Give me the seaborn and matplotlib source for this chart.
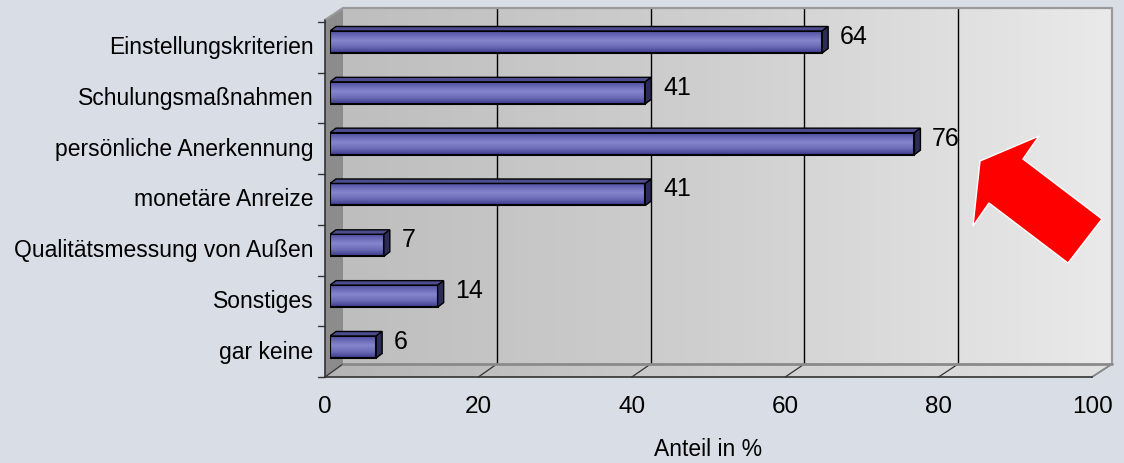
import numpy as np
import matplotlib
matplotlib.use('Agg')
import matplotlib.pyplot as plt
import matplotlib.transforms as mtrans
from matplotlib.patches import Polygon
from matplotlib.colors import LinearSegmentedColormap
import seaborn as sns

# data
kategorien = ["Einstellungskriterien", "Schulungsmaßnahmen", "persönliche Anerkennung",
              "monetäre Anreize", "Qualitätsmessung von Außen", "Sonstiges", "gar keine"]
anteil = [64, 41, 76, 41, 7, 14, 6]
x_ticks = [0, 20, 40, 60, 80, 100]

sns.set_style("white")
plt.rcParams['font.family'] = ['Liberation Sans', 'DejaVu Sans']
plt.rcParams['text.color'] = 'black'
plt.rcParams['xtick.color'] = 'black'
plt.rcParams['ytick.color'] = 'black'
plt.rcParams['xtick.labelcolor'] = 'black'
plt.rcParams['ytick.labelcolor'] = 'black'

W, H = 1124, 463
fig = plt.figure(figsize=(W / 100, H / 100), dpi=100)
fig.patch.set_facecolor('#D9DDE6')


def box(l, t, r, b):
    # pixel box (from top-left) -> figure fraction rect
    return [l / W, 1 - b / H, (r - l) / W, (b - t) / H]


# --- 3d frame drawn in pixel space ---
bg = fig.add_axes([0, 0, 1, 1], zorder=0)
bg.set_xlim(0, W)
bg.set_ylim(H, 0)
bg.axis('off')
bg.patch.set_alpha(0)

front_l, front_r, back_l, back_r = 325, 1092, 343, 1112
top_back, floor_back, floor_front = 8, 364, 377

wall_cmap = LinearSegmentedColormap.from_list('wall', ['#BEBEBE', '#D0D0D0', '#EAEAEA'])
grad = np.linspace(0, 1, 256).reshape(1, -1)
bg.imshow(grad, cmap=wall_cmap, extent=[back_l, back_r, floor_back, top_back], aspect='auto', zorder=1)

floor = Polygon([(front_l, floor_front), (back_l, floor_back), (back_r, floor_back), (front_r, floor_front)],
                closed=True, fc='none', ec='none')
bg.add_patch(floor)
floor_cmap = LinearSegmentedColormap.from_list('floor', ['#B4B4B4', '#CFCFCF', '#E2E2E2'])
im = bg.imshow(grad, cmap=floor_cmap, extent=[front_l, back_r, floor_front, floor_back], aspect='auto', zorder=1)
im.set_clip_path(floor)

left_wall = Polygon([(front_l, 20), (back_l, top_back), (back_l, floor_back), (front_l, floor_front)],
                    closed=True, fc='#8C8C8C', ec='none', zorder=1)
bg.add_patch(left_wall)

sb = (back_r - back_l) / 100
sf = (front_r - front_l) / 100
for v in x_ticks[1:-1]:
    bg.plot([back_l + sb * v] * 2, [top_back, floor_back], color='black', lw=1, zorder=2)
for v in x_ticks:
    bg.plot([front_l + sf * v, back_l + sb * v], [floor_front, floor_back], color='#333333', lw=0.9, zorder=2)

bg.plot([front_l, back_l, back_r, back_r], [20, top_back, top_back, floor_back], color='#9A9A9A', lw=1.6, zorder=2)
bg.plot([back_l, back_r], [floor_back, floor_back], color='#8A8A8A', lw=2, zorder=2)
bg.plot([front_r, back_r], [floor_front, floor_back], color='#8A8A8A', lw=1.2, zorder=2)
bg.plot([front_l, front_l], [20, floor_front], color='#333333', lw=1.2, zorder=3)
band = (floor_front - 22) / len(kategorien)
for k in range(len(kategorien) + 1):
    yk = 22 + band * k
    bg.plot([318, front_l], [yk, yk], color='#333333', lw=1, zorder=3)

# red arrow
pfeil = [(980, 161), (1039, 136), (1023, 159), (1102, 219), (1068, 263), (989, 203), (973, 226)]
bg.add_patch(Polygon(pfeil, closed=True, fc='#FF0000', ec='white', lw=1, zorder=5))

# --- bars ---
ax = fig.add_axes(box(330, top_back, 1099, floor_front), zorder=2)
ax.patch.set_alpha(0)
sns.barplot(x=anteil, y=kategorien, orient='h', width=0.433, color='#7070C0',
            edgecolor='black', linewidth=1.5, ax=ax)

bar_cmap = LinearSegmentedColormap.from_list('bar', [(0, '#4C4C9A'), (0.18, '#6262B2'), (0.45, '#8686CE'),
                                                     (0.75, '#6868B4'), (1, '#3A3A8A')])
gv = np.linspace(0, 1, 64).reshape(-1, 1)
px_x = (1099 - 330) / 100
px_y = 50.83
dx, dy = 6 / px_x, 4.5 / px_y
for p, v in zip(ax.patches, anteil):
    x0, y0, w, h = p.get_x(), p.get_y(), p.get_width(), p.get_height()
    img = ax.imshow(gv, cmap=bar_cmap, extent=[x0, x0 + w, y0 + h, y0], aspect='auto', zorder=2)
    img.set_clip_path(p)
    p.set_facecolor('none')
    p.set_zorder(3)
    x1, yt, yb = x0 + w, y0, y0 + h
    ax.add_patch(Polygon([(x0, yt), (x1, yt), (x1 + dx, yt - dy), (x0 + dx, yt - dy)], closed=True,
                         fc='#4C4C8E', ec='black', lw=1, zorder=3))
    ax.add_patch(Polygon([(x1, yt), (x1 + dx, yt - dy), (x1 + dx, yb - dy), (x1, yb)], closed=True,
                         fc='#2C2C58', ec='black', lw=1, zorder=3))

for i, v in enumerate(anteil):
    ax.text(v + 2.3, i - 0.1, str(v), ha='left', va='center', fontsize=18, color='black')

ax.set_xlim(0, 100)
ax.set_ylim((floor_front - 42) / px_y, (top_back - 42) / px_y)
ax.set_xticks([])
ax.set_xlabel('')
ax.set_ylabel('')
ax.set_yticks(range(len(kategorien)))
ax.set_yticklabels(kategorien, fontsize=16.5)
ax.tick_params(axis='y', length=0, pad=12)
off = mtrans.ScaledTranslation(0, -0.03, fig.dpi_scale_trans)
for lbl in ax.get_yticklabels():
    lbl.set_transform(lbl.get_transform() + off)
for s in ax.spines.values():
    s.set_visible(False)

# --- front value axis ---
ax2 = fig.add_axes(box(front_l, floor_front - 1, front_r, floor_front), zorder=3)
ax2.patch.set_alpha(0)
ax2.set_xlim(0, 100)
ax2.set_xticks(x_ticks)
ax2.set_yticks([])
ax2.tick_params(axis='x', length=5, width=1, color='#333333', pad=9, labelsize=17.5)
for s in ['left', 'right', 'top']:
    ax2.spines[s].set_visible(False)
ax2.spines['bottom'].set_color('#333333')
ax2.spines['bottom'].set_linewidth(1.2)

fig.text((front_l + front_r) / 2 / W, 1 - 449 / H, 'Anteil in %', ha='center', va='center', fontsize=16.5)

fig.savefig('out.png', dpi=100, facecolor=fig.get_facecolor())
